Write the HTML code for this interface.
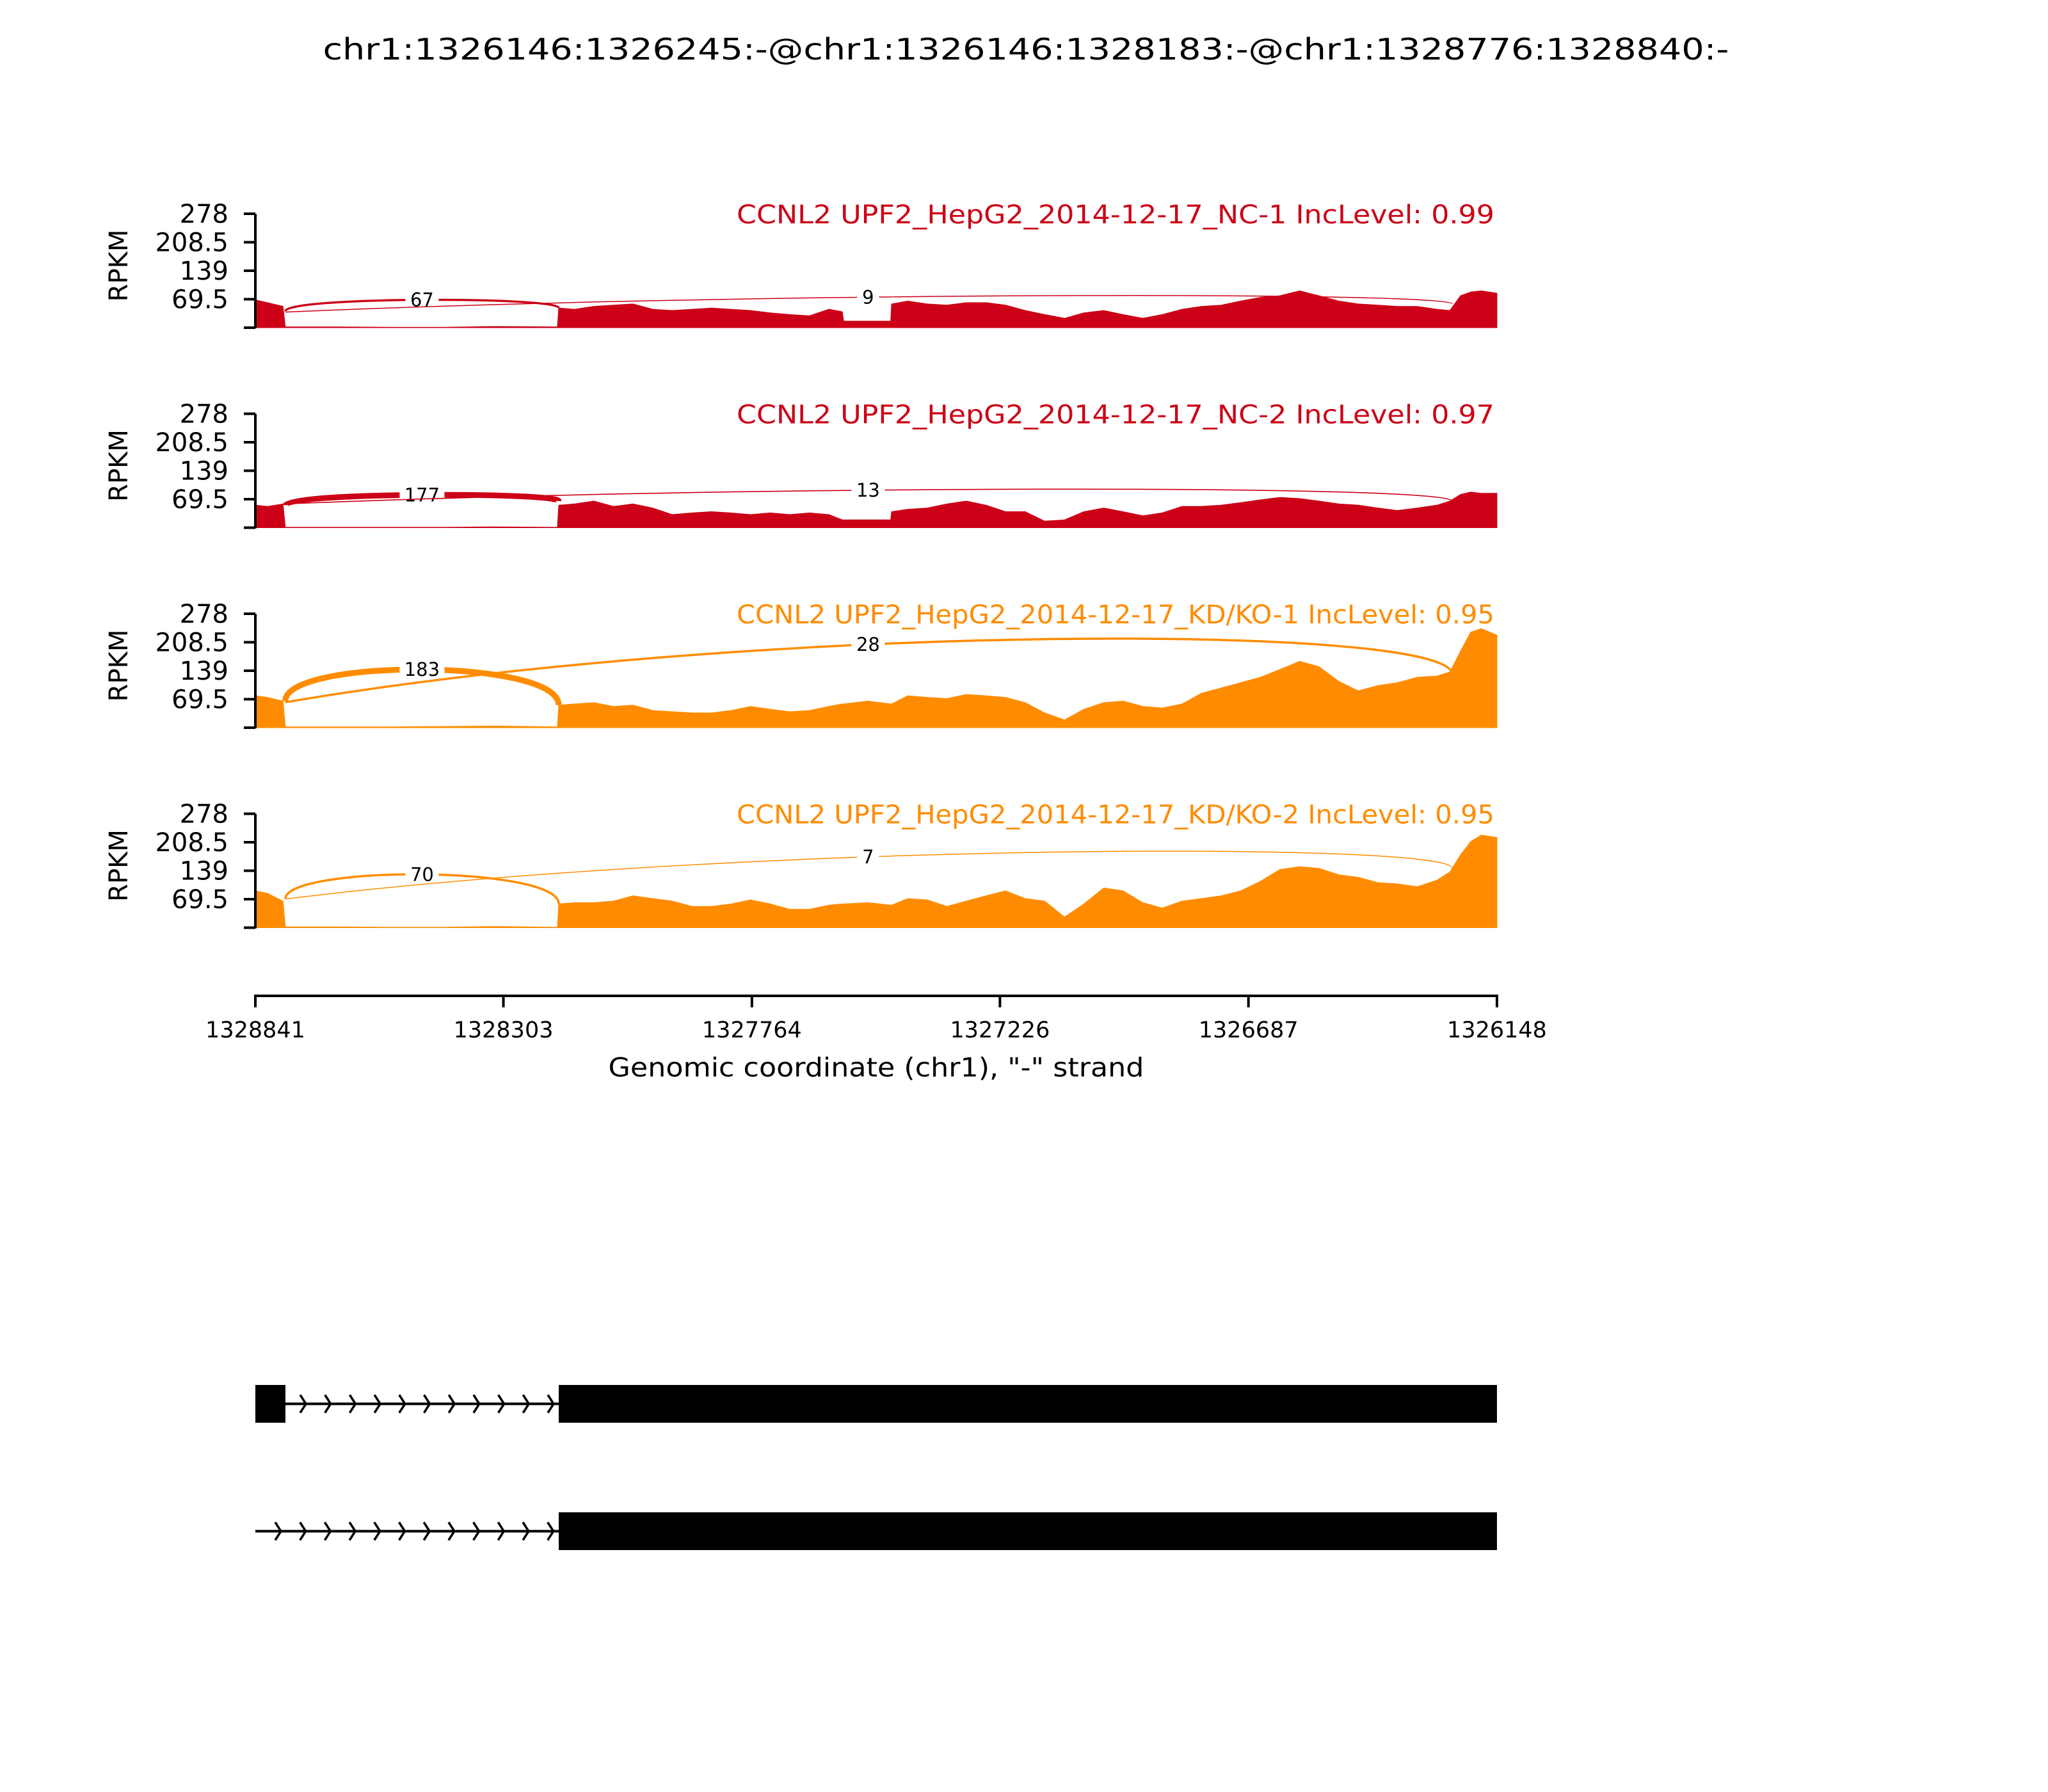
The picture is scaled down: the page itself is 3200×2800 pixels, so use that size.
<!DOCTYPE html>
<html><head><meta charset="utf-8">
<style>
html,body{margin:0;padding:0;background:#fff;}
svg{display:block;font-family:"DejaVu Sans","Liberation Sans",sans-serif;}
</style></head>
<body>
<svg id="chart" width="3200" height="2800" viewBox="0 0 3200 2800" xmlns="http://www.w3.org/2000/svg">
<rect x="0" y="0" width="3200" height="2800" fill="#fff"/>
<text x="1603" y="93" font-size="46" text-anchor="middle" textLength="2197" lengthAdjust="spacingAndGlyphs">chr1:1326146:1326245:-@chr1:1326146:1328183:-@chr1:1328776:1328840:-</text>
<g id="panels"></g>
<g id="xaxis"></g>
<g id="genes"></g>
</svg>
<script>
// genomic positions of coverage samples (chr1, "-" strand)
const positions = [1328841,1328815,1328781,1328776,1328660,1328546,1328433,1328319,1328186,1328183,
1328149,1328107,1328064,1328022,1327979,1327937,1327894,1327852,1327809,1327767,1327724,1327682,1327639,1327597,
1327568,1327565,1327512,1327463,1327461,
1327426,1327384,1327341,1327299,1327256,1327214,1327171,1327129,1327086,1327044,1327001,1326959,1326916,1326874,
1326831,1326789,1326746,1326704,1326661,1326619,1326576,1326534,1326491,1326449,1326406,1326364,1326321,1326278,
1326250,1326227,1326205,1326182,1326148];
const covNC1 = [68,61,52,2,2,1,1,3,2,48, 45,52,55,58,45,42,45,48,45,42,36,32,29,45, 39,16,16,16,58,
65,58,55,61,61,55,42,32,23,36,42,32,23,32, 45,52,55,65,74,78,90,78,65,58,55,52,52,45, 42,78,87,90,84];
const covNC2 = [55,52,58,1,1,1,1,2,1,55, 58,65,52,58,48,32,36,39,36,32,36,32,36,32, 19,19,19,19,39,
45,48,58,65,55,39,39,16,19,39,48,39,29,36, 52,52,55,61,68,74,71,65,58,55,48,42,48,55, 65,81,87,84,84];
const covKD1 = [78,74,65,2,2,2,3,4,2,55, 58,61,52,55,42,39,36,36,42,52,45,39,42,52, 58,58,65,58,58,
78,74,71,81,78,74,61,36,19,45,61,65,52,48, 58,84,97,110,123,142,162,149,113,90,103,110,123,126, 136,187,233,242,226];
const covKD2 = [90,84,65,2,2,1,1,3,1,58, 61,61,65,78,71,65,52,52,58,68,58,45,45,55, 58,58,61,55,55,
71,68,52,65,78,90,71,65,26,58,97,90,61,48, 65,71,78,90,113,142,149,145,129,123,110,107,100,116, 136,178,210,226,220];
const sampleNames = ["CCNL2 UPF2_HepG2_2014-12-17_NC-1 IncLevel: 0.99","CCNL2 UPF2_HepG2_2014-12-17_NC-2 IncLevel: 0.97",
"CCNL2 UPF2_HepG2_2014-12-17_KD/KO-1 IncLevel: 0.95","CCNL2 UPF2_HepG2_2014-12-17_KD/KO-2 IncLevel: 0.95"];
// junction counts: short (exon1->exon2) and long (exon1->exon3)
const shortCounts = [67,177,183,70];
const longCounts = [9,13,28,7];
// arc heights in RPKM: [start, peak, end]
const shortArcY = [[40,68,48],[55,80,65],[65,142,55],[70,130,58]];
const longArcY = [[38,78,58],[58,94,65],[62,216,130],[70,184,145]];
const junctionShort = [1328776,1328183];
const junctionLong = [1328776,1326245];
const longLabelPos = 1327512;
const yTicks = [0,69.5,139,208.5,278];
const yTickLabels = ["","69.5","139","208.5","278"];
const xTicks = [1328841,1328303,1327764,1327226,1326687,1326148];
const yMax = 278;

const colors = ["#cc0016","#cc0016","#ff8c00","#ff8c00"];
const X0=399, X1=2339, G0=1328841, G1=1326148;
const x = g => X0 + (G0-g)/(G0-G1)*(X1-X0);
const bases=[512,824.5,1137,1449.5], PH=178;
const NS="http://www.w3.org/2000/svg";
function mk(tag,attrs,parent){const e=document.createElementNS(NS,tag);for(const k in attrs)e.setAttribute(k,attrs[k]);parent.appendChild(e);return e;}
const panels=document.getElementById('panels');
const covs=[covNC1,covNC2,covKD1,covKD2];
function bez(p0,p1,p2,p3,t){const u=1-t;return u*u*u*p0+3*u*u*t*p1+3*u*t*t*p2+t*t*t*p3;}
for(let p=0;p<4;p++){
  const base=bases[p], col=colors[p];
  const y = v => base - v/yMax*PH;
  const g=mk('g',{},panels);
  
  
  let d='M'+x(positions[0])+','+base;
  positions.forEach((gp,i)=>{d+=' L'+x(gp).toFixed(1)+','+y(covs[p][i]).toFixed(1);});
  d+=' L'+x(positions[positions.length-1])+','+base+' Z';
  const area=mk('path',{d:d,fill:col,stroke:col,'stroke-width':1},g);
  
  
  const arcs=[[junctionShort,shortArcY[p],shortCounts[p],Math.max(2,shortCounts[p]/20),0],[junctionLong,longArcY[p],longCounts[p],Math.max(1.5,longCounts[p]/8),1]];
  arcs.forEach(([jn,ay,cnt,w,isLong])=>{
    const x0=x(jn[0]),x3=x(jn[1]),y0=y(ay[0]),y3=y(ay[2]),yp=y(ay[1]);
    const yc=(yp-0.125*(y0+y3))/0.75;
    const x1c=isLong? x0+0.4*(x3-x0): x0, x2c=x3;
    const arc=mk('path',{d:`M${x0},${y0} C${x1c},${yc} ${x2c},${yc} ${x3},${y3}`,fill:'none',stroke:col,'stroke-width':w},g);
    
    
    let lx,ly;
    if(isLong){
      const tx=x(longLabelPos);let best=0,bd=1e9;
      for(let t=0;t<=1;t+=0.005){const xx=bez(x0,x1c,x2c,x3,t);if(Math.abs(xx-tx)<bd){bd=Math.abs(xx-tx);best=t;}}
      lx=tx;ly=bez(y0,yc,yc,y3,best);
    } else {lx=(x0+x3)/2;ly=bez(y0,yc,yc,y3,0.5);}
    const tw=String(cnt).length*18+16;
    const bg=mk('rect',{x:lx-tw/2,y:ly-17,width:tw,height:34,fill:'#fff'},g);
    
    
    const t=mk('text',{x:lx,y:ly+10,'font-size':29,'text-anchor':'middle',fill:'#000'},g);
    t.textContent=cnt;
    
    
  });
  const sp=mk('line',{x1:X0,y1:base-PH,x2:X0,y2:base+1,stroke:'#000','stroke-width':4},g);
  
  
  yTicks.forEach((tv,i)=>{
    const tk=mk('line',{x1:X0-18,y1:y(tv),x2:X0,y2:y(tv),stroke:'#000','stroke-width':4},g);
    
    
    if(yTickLabels[i]){
      const tl=mk('text',{x:357,y:y(tv)+14,'font-size':40,'text-anchor':'end'},g);
      tl.textContent=yTickLabels[i];
      
      
    }
  });
  const yl=mk('text',{x:0,y:0,'font-size':40,'text-anchor':'middle',transform:`translate(199,${base-97}) rotate(-90)`},g);
  yl.textContent='RPKM';
  
  
  const st=mk('text',{x:X1-4,y:base-163,'font-size':40,'text-anchor':'end',fill:col,textLength:1184,lengthAdjust:'spacingAndGlyphs'},g);
  st.textContent=sampleNames[p];
  
  
}
const xa=document.getElementById('xaxis');
const axl=mk('line',{x1:X0-2,y1:1556,x2:X1+2,y2:1556,stroke:'#000','stroke-width':4},xa);


xTicks.forEach(tv=>{
  const tk=mk('line',{x1:x(tv),y1:1556,x2:x(tv),y2:1574,stroke:'#000','stroke-width':4},xa);
  
  
  const tl=mk('text',{x:x(tv),y:1621,'font-size':35,'text-anchor':'middle'},xa);
  tl.textContent=tv;
  
  
});
const xl=mk('text',{x:1369,y:1682,'font-size':41,'text-anchor':'middle',textLength:837,lengthAdjust:'spacingAndGlyphs'},xa);
xl.textContent='Genomic coordinate (chr1), "-" strand';


const gn=document.getElementById('genes');
const rows=[{top:2164,exon1:true,lineStart:446,chev0:478,n:11},{top:2363,exon1:false,lineStart:399,chev0:439,n:12}];
rows.forEach((r,ri)=>{
  const g=mk('g',{},gn);
  
  
  const cy=r.top+29.5;
  const ln=mk('line',{x1:r.lineStart,y1:cy,x2:873,y2:cy,stroke:'#000','stroke-width':4},g);
  
  
  for(let i=0;i<r.n;i++){
    const cx=r.chev0+38.7*i;
    const ch=mk('path',{d:`M${cx-9},${cy-14} L${cx},${cy} L${cx-9},${cy+14}`,fill:'none',stroke:'#000','stroke-width':3.5},g);
    
    
  }
  if(r.exon1){
    const e1=mk('rect',{x:399,y:r.top,width:47,height:59,fill:'#000'},g);
    
    
  }
  const e2=mk('rect',{x:873,y:r.top,width:X1-873,height:59,fill:'#000'},g);
  
  
});
</script>
</body></html>
